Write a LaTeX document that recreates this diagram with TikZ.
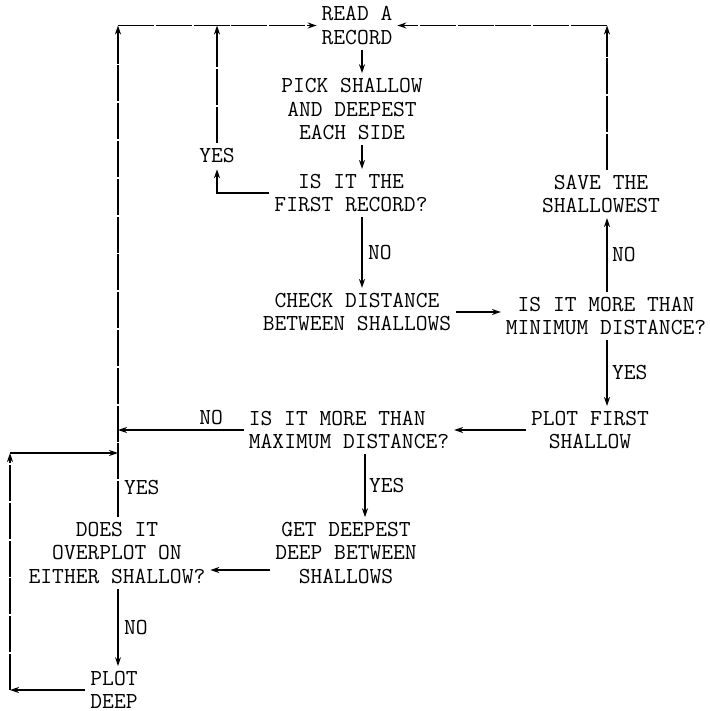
\documentclass[tikz,border=0pt]{standalone}
\usepackage{fontspec}
\usetikzlibrary{arrows.meta}
\begin{document}
\begin{tikzpicture}[x=0.5pt,y=-0.5pt,
  box/.style={font=\ttfamily\fontsize{11.43}{11.75}\selectfont, align=center, inner sep=0pt, outer sep=2.5pt, text=black},
  lbl/.style={font=\ttfamily\fontsize{11.43}{11.75}\selectfont, inner sep=0pt, outer sep=0pt, text=black},
  conn/.style={draw=black, line width=0.75pt, -{Stealth[length=4.5pt,width=3pt]}},
  longdash/.style={dash pattern=on 18pt off 0.9pt}]
\useasboundingbox (0,0) rectangle (709,711);

% process and decision texts
\node[box] (read) at (357,25.5) {READ A\\RECORD};
\node[box] (pick) at (352,109) {PICK SHALLOW\\AND DEEPEST\\EACH SIDE};
\node[box] (first) at (351,193) {IS IT THE\\FIRST RECORD?};
\node[box] (save) at (601,194) {SAVE THE\\SHALLOWEST};
\node[box] (check) at (357,312) {CHECK DISTANCE\\BETWEEN SHALLOWS};
\node[box] (minimum) at (606,316) {IS IT MORE THAN\\MINIMUM DISTANCE?};
\node[box, align=left] (maximum) at (349,430) {IS IT MORE THAN\\MAXIMUM DISTANCE?};
\node[box] (plotfirst) at (590,430) {PLOT FIRST\\SHALLOW};
\node[box] (getdeep) at (346,553) {GET DEEPEST\\DEEP BETWEEN\\SHALLOWS};
\node[box] (overplot) at (117,553) {DOES IT\\OVERPLOT ON\\EITHER SHALLOW?};
\node[box] (plotdeep) at (114,690) {PLOT\\DEEP};
\node[lbl, outer sep=3pt] (yes1) at (217,156) {YES};

% routing coordinates
\coordinate (colA) at (362,0);
\coordinate (colB) at (607,0);
\coordinate (colC) at (365,0);
\coordinate (colD) at (118,0);
\coordinate (tl) at (118,25.5);
\coordinate (tm) at (217,25.5);
\coordinate (tr) at (607,25.5);
\coordinate (bl) at (10,690);
\coordinate (ml) at (10,453);

% connectors
\draw[conn] (read.south -| colA) -- (pick.north -| colA);
\draw[conn] (pick.south -| colA) -- (first.north -| colA);
\draw[conn] (first.south -| colA) -- node[lbl, right=3pt] {NO} (check.north -| colA);
\draw[conn] (check.east) -- (check.east -| minimum.west);
\draw[conn] (minimum.north -| colB) -- node[lbl, right=2.5pt] {NO} (save.south -| colB);
\draw[conn] (minimum.south -| colB) -- node[lbl, right=2.5pt] {YES} (plotfirst.north -| colB);
\draw[conn, longdash] (save.north -| colB) -- (tr);
\draw[conn, longdash] (tr) -- (tr -| read.east);
\draw[conn] (plotfirst.west) -- (maximum.east);
\draw[conn] (maximum.west) -- node[lbl, pos=0.26, above=2.5pt] {NO} (maximum.west -| colD);
\draw[conn] (maximum.south -| colC) -- node[lbl, right=2pt] {YES} (getdeep.north -| colC);
\draw[conn] ([yshift=-8.5pt]getdeep.west) -- ([yshift=-8.5pt]getdeep.west -| overplot.east);
\draw[conn] (overplot.south -| colD) -- node[lbl, right=3pt] {NO} (plotdeep.north -| colD);
\draw[conn, longdash] (overplot.north -| colD) -- node[lbl, pos=0.061, right=3pt] {YES} (tl);
\draw[conn] (first.west) -| (yes1.south);
\draw[conn, longdash] (yes1.north) -- (tm);
\draw[conn, longdash] (tl) -- (tl -| read.west);
\draw[conn] (plotdeep.west) -- (bl);
\draw[conn, longdash] (bl) -- (ml);
\draw[conn] (ml) -- (ml -| colD);
\end{tikzpicture}
\end{document}
